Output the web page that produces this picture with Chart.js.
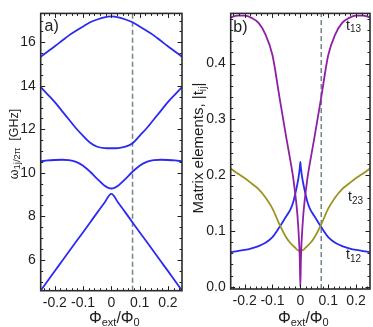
<!DOCTYPE html>
<html>
<head>
<meta charset="utf-8">
<script src="https://cdn.jsdelivr.net/npm/chart.js@4.4.0/dist/chart.umd.min.js"></script>
<style>
  html, body { margin: 0; padding: 0; background: #fff; }
  #wrap { position: relative; width: 373px; height: 327px; }
  canvas { position: absolute; top: 0; }
  #chartA { left: 0; }
  #chartB { left: 186px; }
</style>
</head>
<body>
<div id="wrap">
  <canvas id="chartA" width="186" height="327"></canvas>
  <canvas id="chartB" width="187" height="327"></canvas>
</div>
<script>
/* ========= Datos ========= */
// panel a) niveles de energía vs flujo
const fluxA = [-0.25, -0.225, -0.2, -0.175, -0.15, -0.125, -0.1, -0.075, -0.05, -0.025, 0,
               0.025, 0.05, 0.075, 0.1, 0.125, 0.15, 0.175, 0.2, 0.225, 0.25];
const level4 = [15.34, 15.58, 15.82, 16.07, 16.32, 16.53, 16.73, 16.92, 17.05, 17.15, 17.19,
                17.15, 17.05, 16.92, 16.73, 16.53, 16.32, 16.07, 15.82, 15.58, 15.34];
const level3 = [13.94, 13.6, 13.25, 12.85, 12.45, 12.05, 11.7, 11.38, 11.2, 11.14, 11.13,
                11.14, 11.2, 11.36, 11.7, 12.05, 12.45, 12.85, 13.25, 13.6, 13.94];
const level2 = [10.53, 10.57, 10.59, 10.6, 10.58, 10.5, 10.33, 10.05, 9.72, 9.42, 9.28,
                9.42, 9.72, 10.05, 10.33, 10.5, 10.58, 10.6, 10.59, 10.57, 10.53];
const level1 = [4.59, 5.04, 5.49, 5.93, 6.38, 6.83, 7.27, 7.72, 8.17, 8.61, 9.03,
                8.61, 8.17, 7.72, 7.27, 6.83, 6.38, 5.93, 5.49, 5.04, 4.59];

// panel b) elementos de matriz
const fluxB = [-0.25, -0.225, -0.2, -0.175, -0.15, -0.125, -0.1, -0.075, -0.05, -0.035, -0.025,
               -0.015, -0.01, -0.005, -0.002, 0, 0.002, 0.005, 0.01, 0.015, 0.025,
               0.035, 0.05, 0.075, 0.1, 0.125, 0.15, 0.175, 0.2, 0.225, 0.25];
const t13 = [0.483, 0.486, 0.486, 0.482, 0.473, 0.452, 0.415, 0.34, 0.266, 0.224, 0.193,
             0.152, 0.125, 0.086, 0.05, 0, 0.05, 0.086, 0.125, 0.152, 0.193,
             0.224, 0.266, 0.34, 0.415, 0.452, 0.473, 0.482, 0.486, 0.486, 0.483];
const t12 = [0.062, 0.064, 0.066, 0.069, 0.073, 0.079, 0.089, 0.107, 0.127, 0.139, 0.153,
             0.174, 0.186, 0.201, 0.213, 0.224, 0.213, 0.201, 0.186, 0.174, 0.153,
             0.139, 0.127, 0.107, 0.089, 0.079, 0.073, 0.069, 0.066, 0.064, 0.062];
const t23 = [0.212, 0.203, 0.195, 0.185, 0.175, 0.16, 0.14, 0.112, 0.088, 0.078, 0.073,
             0.068, 0.066, 0.065, 0.065, 0.065, 0.065, 0.065, 0.066, 0.068, 0.073,
             0.078, 0.088, 0.112, 0.14, 0.16, 0.175, 0.185, 0.195, 0.203, 0.212];

const workingFlux = 0.075;           // línea vertical discontinua
const xTicks = [-0.2, -0.1, 0, 0.1, 0.2];
const yTicksA = [6, 8, 10, 12, 14, 16];
const yTicksB = [0, 0.1, 0.2, 0.3, 0.4];

/* ========= Estilo ========= */
const FONT = '"Liberation Sans", Arial, sans-serif';
const INK = '#1e1e1e';
const COLORS = {
  blue: '#2a2af2',
  purple: '#8e1fa6',
  olive: '#9a9420',
  dash: '#728484',
};

Chart.defaults.font.family = FONT;
Chart.defaults.animation = false;

/* ========= Helpers ========= */
function pts(xs, ys) {
  return xs.map((x, i) => ({ x, y: ys[i] }));
}

function curve(xs, ys, color) {
  return {
    data: pts(xs, ys),
    borderColor: color,
    borderWidth: 1.8,
    pointRadius: 0,
    cubicInterpolationMode: 'monotone',
    fill: false,
  };
}

function dashLine(yMin, yMax) {
  return {
    data: [{ x: workingFlux, y: yMin }, { x: workingFlux, y: yMax }],
    borderColor: COLORS.dash,
    borderWidth: 1.5,
    borderDash: [5, 3],
    pointRadius: 0,
    order: 10,
  };
}

// texto con sub-índices: parts = [[texto, tamaño, dy], ...]
function drawRich(ctx, parts, x, y, align) {
  let w = 0;
  for (const [t, s] of parts) {
    ctx.font = `${s}px ${FONT}`;
    w += ctx.measureText(t).width;
  }
  let cx = align === 'center' ? x - w / 2 : x;
  for (const [t, s, dy = 0] of parts) {
    ctx.font = `${s}px ${FONT}`;
    ctx.fillText(t, cx, y + dy);
    cx += ctx.measureText(t).width;
  }
}

function tickList(min, max, majors, step) {
  const out = [];
  for (let k = Math.ceil(min / step - 1e-9); k <= Math.floor(max / step + 1e-9); k++) {
    const v = k * step;
    out.push({ v, major: majors.some(m => Math.abs(m - v) < step / 10) });
  }
  return out;
}

/* ========= Marco tipo Mathematica: ticks hacia dentro + textos ========= */
function framePlugin(spec) {
  return {
    id: 'frame',
    afterDatasetsDraw(chart) {
      const { ctx, chartArea: a, scales: { x, y } } = chart;
      ctx.save();
      ctx.strokeStyle = INK;
      ctx.lineWidth = 1;
      ctx.beginPath();
      for (const t of tickList(x.min, x.max, xTicks, spec.xMinor)) {
        const px = Math.round(x.getPixelForValue(t.v)) + 0.5;
        const len = t.major ? 4.5 : 2.5;
        ctx.moveTo(px, a.bottom); ctx.lineTo(px, a.bottom - len);
        ctx.moveTo(px, a.top); ctx.lineTo(px, a.top + len);
      }
      for (const t of tickList(y.min, y.max, spec.yMajors, spec.yMinor)) {
        const py = Math.round(y.getPixelForValue(t.v)) + 0.5;
        const len = t.major ? 4.5 : 2.5;
        ctx.moveTo(a.left, py); ctx.lineTo(a.left + len, py);
        ctx.moveTo(a.right, py); ctx.lineTo(a.right - len, py);
      }
      ctx.stroke();
      ctx.lineWidth = 1.6;
      ctx.strokeStyle = '#2a2a2a';
      ctx.strokeRect(a.left, a.top, a.width, a.height);
      ctx.restore();
    },
    afterDraw(chart) {
      const { ctx, chartArea: a } = chart;
      ctx.save();
      ctx.fillStyle = INK;
      ctx.textBaseline = 'alphabetic';
      // etiqueta del panel
      drawRich(ctx, [[spec.tag, 16]], spec.tagX, spec.tagY, 'left');
      // etiquetas de series
      for (const s of spec.series || []) {
        drawRich(ctx, [['t', 14], [s.sub, 10, 2.5]], s.x, s.y, 'left');
      }
      // título eje x
      drawRich(ctx, [['Φ', 16], ['ext', 11, 3], ['/Φ', 16], ['0', 11, 3]],
               (a.left + a.right) / 2 + 3, 323, 'center');
      // título eje y (rotado)
      ctx.translate(spec.yTitleX, spec.yTitleY);
      ctx.rotate(-Math.PI / 2);
      drawRich(ctx, spec.yTitle, 0, 0, 'center');
      ctx.restore();
    },
  };
}

/* ========= Factory ========= */
function makePanel(canvasId, { datasets, yMin, yMax, yTicks, yFmt, yAxisW, xAxisH, padTop, padRight, spec }) {
  const tickFont = { size: 14, family: FONT };
  return new Chart(document.getElementById(canvasId), {
    type: 'line',
    data: { datasets },
    options: {
      responsive: false,
      devicePixelRatio: 1,
      layout: { padding: { top: padTop, right: padRight, left: 0, bottom: 0 } },
      plugins: { legend: { display: false }, tooltip: { enabled: false } },
      scales: {
        x: {
          type: 'linear',
          min: -0.25,
          max: 0.25,
          afterBuildTicks: s => { s.ticks = xTicks.map(v => ({ value: v })); },
          afterFit: s => { s.height = xAxisH; },
          grid: { display: false, drawTicks: false },
          border: { display: false },
          ticks: { padding: 4, color: INK, font: tickFont, maxRotation: 0, callback: v => String(v) },
        },
        y: {
          type: 'linear',
          min: yMin,
          max: yMax,
          afterBuildTicks: s => { s.ticks = yTicks.map(v => ({ value: v })); },
          afterFit: s => { s.width = yAxisW; },
          grid: { display: false, drawTicks: false },
          border: { display: false },
          ticks: { padding: 5, color: INK, font: tickFont, callback: yFmt },
        },
      },
    },
    plugins: [framePlugin(spec)],
  });
}

/* ========= Panel a) ========= */
makePanel('chartA', {
  datasets: [
    curve(fluxA, level4, COLORS.blue),
    curve(fluxA, level3, COLORS.blue),
    curve(fluxA, level2, COLORS.blue),
    curve(fluxA, level1, COLORS.blue),
    dashLine(4.58, 17.33),
  ],
  yMin: 4.58, yMax: 17.33, yTicks: yTicksA, yFmt: v => String(v),
  yAxisW: 40.7, xAxisH: 36.3, padTop: 8.3, padRight: 4,
  spec: {
    xMinor: 0.02, yMinor: 0.5, yMajors: yTicksA,
    tag: 'a)', tagX: 44.5, tagY: 31,
    yTitleX: 18, yTitleY: 144,
    yTitle: [['ω', 12.5], ['1j/2π', 9.5, 2], ['  [GHz]', 12.5]],
  },
});

/* ========= Panel b) ========= */
makePanel('chartB', {
  datasets: [
    curve(fluxB, t13, COLORS.purple),
    curve(fluxB, t23, COLORS.olive),
    curve(fluxB, t12, COLORS.blue),
    dashLine(-0.004, 0.49),
  ],
  yMin: -0.004, yMax: 0.49, yTicks: yTicksB, yFmt: v => v.toFixed(1),
  yAxisW: 44.7, xAxisH: 38, padTop: 11, padRight: 3,
  spec: {
    xMinor: 0.02, yMinor: 0.02, yMajors: yTicksB,
    tag: 'b)', tagX: 47.3, tagY: 32,
    series: [
      { sub: '13', x: 160, y: 29.5 },
      { sub: '23', x: 162, y: 201 },
      { sub: '12', x: 160, y: 259 },
    ],
    yTitleX: 17, yTitleY: 148,
    yTitle: [['Matrix elements, |t', 15], ['ij', 10.5, 2.5], ['|', 15]],
  },
});
</script>
</body>
</html>
